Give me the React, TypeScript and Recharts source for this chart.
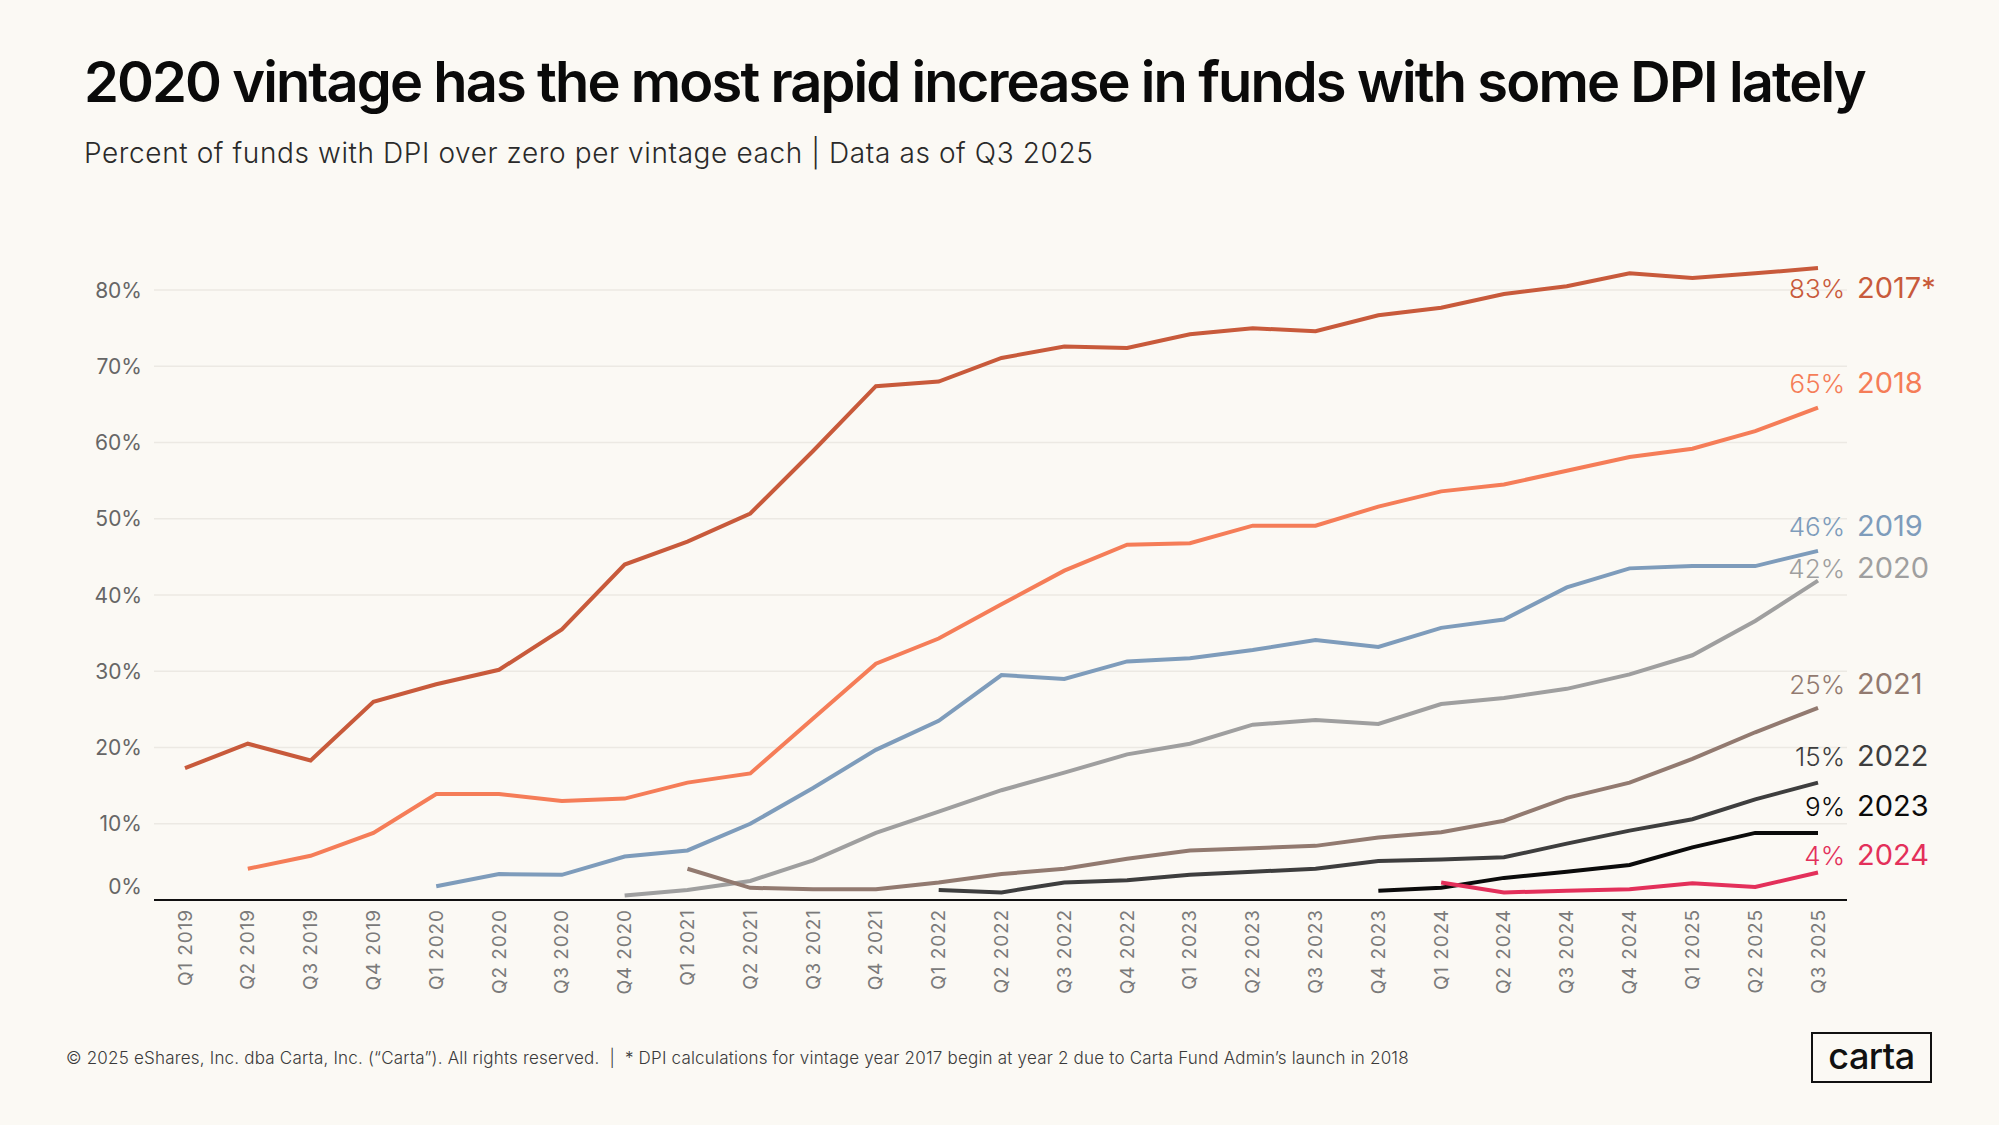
import React from 'react';
import { LineChart, Line, XAxis, YAxis, CartesianGrid } from 'recharts';

const QUARTERS = [
  'Q1 2019', 'Q2 2019', 'Q3 2019', 'Q4 2019',
  'Q1 2020', 'Q2 2020', 'Q3 2020', 'Q4 2020',
  'Q1 2021', 'Q2 2021', 'Q3 2021', 'Q4 2021',
  'Q1 2022', 'Q2 2022', 'Q3 2022', 'Q4 2022',
  'Q1 2023', 'Q2 2023', 'Q3 2023', 'Q4 2023',
  'Q1 2024', 'Q2 2024', 'Q3 2024', 'Q4 2024',
  'Q1 2025', 'Q2 2025', 'Q3 2025',
];

const _ = null;

// percent of funds with DPI > 0, one value per quarter (null = vintage not yet tracked)
const V2017 = [17.3, 20.5, 18.3, 26.0, 28.3, 30.2, 35.5, 44.0, 47.0, 50.7, 58.9, 67.4, 68.0, 71.1, 72.6, 72.4, 74.2, 75.0, 74.6, 76.7, 77.7, 79.5, 80.5, 82.2, 81.6, 82.2, 82.9];
const V2018 = [_, 4.1, 5.8, 8.8, 13.9, 13.9, 13.0, 13.3, 15.4, 16.6, 23.8, 31.0, 34.3, 38.8, 43.2, 46.6, 46.8, 49.1, 49.1, 51.6, 53.6, 54.5, 56.3, 58.1, 59.2, 61.5, 64.6];
const V2019 = [_, _, _, _, 1.8, 3.4, 3.3, 5.7, 6.5, 10.0, 14.7, 19.7, 23.5, 29.5, 29.0, 31.3, 31.7, 32.8, 34.1, 33.2, 35.7, 36.8, 41.0, 43.5, 43.8, 43.8, 45.8];
const V2020 = [_, _, _, _, _, _, _, 0.6, 1.3, 2.5, 5.2, 8.8, 11.6, 14.4, 16.7, 19.1, 20.5, 23.0, 23.6, 23.1, 25.7, 26.5, 27.7, 29.6, 32.1, 36.6, 41.9];
const V2021 = [_, _, _, _, _, _, _, _, 4.1, 1.6, 1.4, 1.4, 2.3, 3.4, 4.1, 5.4, 6.5, 6.8, 7.1, 8.2, 8.9, 10.4, 13.4, 15.4, 18.5, 22.0, 25.2];
const V2022 = [_, _, _, _, _, _, _, _, _, _, _, _, 1.3, 1.0, 2.3, 2.6, 3.3, 3.7, 4.1, 5.1, 5.3, 5.6, 7.4, 9.1, 10.6, 13.2, 15.4];
const V2023 = [_, _, _, _, _, _, _, _, _, _, _, _, _, _, _, _, _, _, _, 1.2, 1.6, 2.9, 3.7, 4.6, 6.9, 8.8, 8.8];
const V2024 = [_, _, _, _, _, _, _, _, _, _, _, _, _, _, _, _, _, _, _, _, 2.3, 1.0, 1.2, 1.4, 2.2, 1.7, 3.6];

const Y_TICKS = [0, 10, 20, 30, 40, 50, 60, 70, 80];

const SERIES = [
  { key: 'v2017', name: '2017*', values: V2017, color: '#c85a3b', dy: 30 },
  { key: 'v2018', name: '2018', values: V2018, color: '#f57d58', dy: -15 },
  { key: 'v2019', name: '2019', values: V2019, color: '#7e9cbb', dy: -15 },
  { key: 'v2020', name: '2020', values: V2020, color: '#9f9f9f', dy: -3 },
  { key: 'v2021', name: '2021', values: V2021, color: '#927a70', dy: -14 },
  { key: 'v2022', name: '2022', values: V2022, color: '#3e3e3e', dy: -17 },
  { key: 'v2023', name: '2023', values: V2023, color: '#0b0b0b', dy: -17 },
  { key: 'v2024', name: '2024', values: V2024, color: '#e3305a', dy: -8 },
];

const data = QUARTERS.map((q, i) => {
  const row: Record<string, string | number | null> = { q };
  SERIES.forEach((s) => {
    row[s.key] = s.values[i];
  });
  return row;
});

const FONT = 'Inter, "Noto Sans", sans-serif';
const LAST = QUARTERS.length - 1;

const XTick = ({ x, y, payload }: any) => (
  <text
    x={x}
    y={y}
    transform={`rotate(-90, ${x}, ${y})`}
    textAnchor="end"
    dominantBaseline="central"
    fill="#7a7a7a"
    fontSize={19}
    fontFamily={FONT}
    letterSpacing={0.9}
  >
    {payload.value}
  </text>
);

const YTick = ({ x, y, payload }: any) => (
  <text
    x={x}
    y={y}
    dy={payload.value === 0 ? -14 : 0}
    textAnchor="end"
    dominantBaseline="central"
    fill="#666"
    fontSize={21}
    fontFamily={FONT}
  >
    {`${payload.value}%`}
  </text>
);

const endLabel = (s: (typeof SERIES)[number]) => (props: any) => {
  const { x, y, index, value } = props;
  if (index !== LAST || value == null) return <g />;
  return (
    <g>
      <text x={x + 27} y={y + s.dy} textAnchor="end" fill={s.color} fontSize={26} fontFamily={FONT} fontWeight={300}>
        {`${Math.round(value)}%`}
      </text>
      <text x={x + 39} y={y + s.dy} textAnchor="start" fill={s.color} fontSize={29} fontFamily={FONT} fontWeight={400}>
        {s.name}
      </text>
    </g>
  );
};

export default function App() {
  return (
    <div
      style={{
        position: 'absolute',
        left: 0,
        top: 0,
        width: 1999,
        height: 1125,
        background: '#fbf9f4',
        fontFamily: FONT,
        overflow: 'hidden',
      }}
    >
      <div
        style={{
          position: 'absolute',
          left: 84,
          top: 54,
          fontSize: 56,
          lineHeight: 1,
          fontWeight: 600,
          color: '#0a0a0a',
          letterSpacing: -1.9,
          whiteSpace: 'nowrap',
        }}
      >
        2020 vintage has the most rapid increase in funds with some DPI lately
      </div>
      <div
        style={{
          position: 'absolute',
          left: 84,
          top: 139,
          fontSize: 28,
          lineHeight: 1,
          fontWeight: 300,
          color: '#2a2a2a',
          letterSpacing: 0.6,
          whiteSpace: 'nowrap',
        }}
      >
        Percent of funds with DPI over zero per vintage each | Data as of Q3 2025
      </div>

      <div style={{ position: 'absolute', left: 0, top: 0 }}>
        <LineChart width={1999} height={1125} data={data} margin={{ top: 252, right: 152, bottom: 0, left: 0 }}>
          <CartesianGrid
            horizontal
            vertical={false}
            horizontalValues={Y_TICKS}
            stroke="#ece9e3"
            strokeWidth={1.5}
          />
          <XAxis
            dataKey="q"
            interval={0}
            height={225}
            tickSize={0}
            tickMargin={9}
            tickLine={false}
            axisLine={{ stroke: '#111', strokeWidth: 2 }}
            padding={{ left: 31, right: 29 }}
            tick={<XTick />}
          />
          <YAxis
            width={154}
            domain={[0, 85]}
            ticks={Y_TICKS}
            allowDataOverflow
            axisLine={false}
            tickLine={false}
            tickSize={0}
            tickMargin={12}
            tick={<YTick />}
          />
          {SERIES.map((s) => (
            <Line
              key={s.key}
              type="linear"
              dataKey={s.key}
              stroke={s.color}
              strokeWidth={4}
              dot={false}
              activeDot={false}
              connectNulls={false}
              isAnimationActive={false}
              label={endLabel(s)}
            />
          ))}
        </LineChart>
      </div>

      <div
        style={{
          position: 'absolute',
          left: 66,
          top: 1050,
          fontSize: 17,
          lineHeight: 1,
          fontWeight: 300,
          color: '#3a3a3a',
          letterSpacing: 0.2,
          whiteSpace: 'nowrap',
        }}
      >
        © 2025 eShares, Inc. dba Carta, Inc. (“Carta”). All rights reserved. &nbsp;|&nbsp; * DPI calculations for vintage year 2017 begin at year 2 due to Carta Fund Admin’s launch in 2018
      </div>

      <div
        style={{
          position: 'absolute',
          left: 1811,
          top: 1032,
          width: 121,
          height: 51,
          boxSizing: 'border-box',
          border: '2.5px solid #111',
          display: 'flex',
          alignItems: 'center',
          justifyContent: 'center',
          fontSize: 36,
          fontWeight: 500,
          color: '#111',
          letterSpacing: -0.5,
          paddingBottom: 4,
        }}
      >
        carta
      </div>
    </div>
  );
}
